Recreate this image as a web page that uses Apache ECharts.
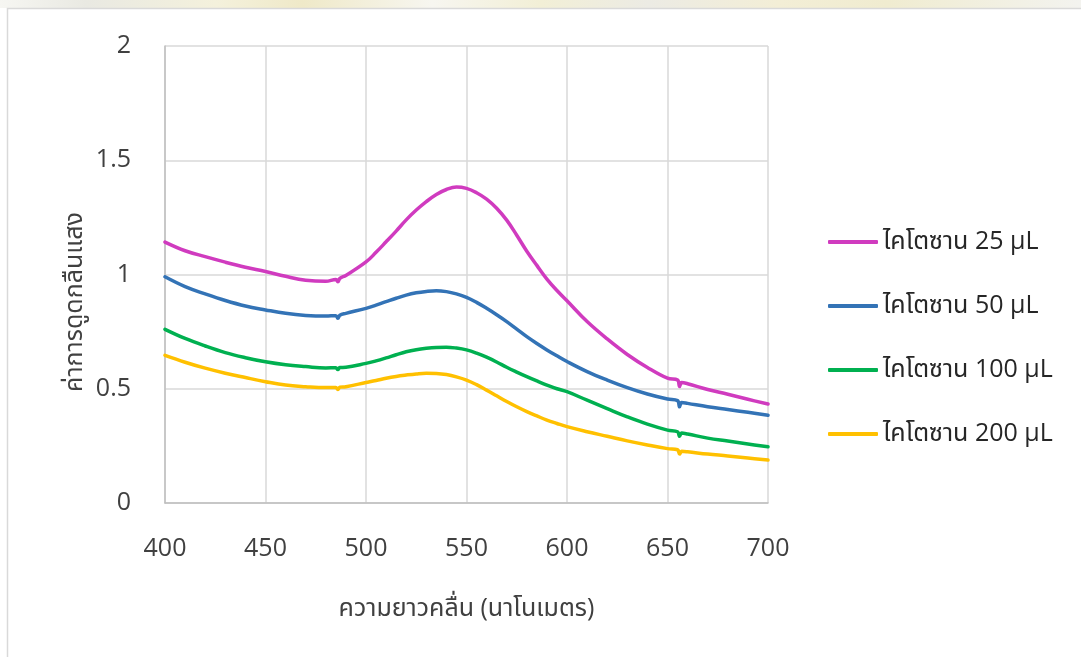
<!DOCTYPE html>
<html>
<head>
<meta charset="utf-8">
<script src="https://cdn.jsdelivr.net/npm/echarts@6/dist/echarts.min.js"></script>
<style>
  html, body { margin: 0; padding: 0; background: #ffffff; }
  #chart { width: 1081px; height: 657px; }
</style>
</head>
<body>
<div id="chart"></div>
<script>
// Absorbance spectra of chitosan-treated samples, 400–700 nm
const wavelengths = [400, 410, 420, 430, 440, 450, 460, 470, 480, 485, 486, 487, 490,
  500, 505, 510, 515, 520, 525, 530, 535, 540, 545, 550, 555, 560, 565, 570, 575, 580, 585, 590, 595,
  600, 610, 620, 630, 640, 650, 655, 656, 657, 660, 670, 680, 690, 700];

const chitosan25 = [1.142, 1.104, 1.078, 1.054, 1.032, 1.013, 0.992, 0.975, 0.970, 0.978, 0.968, 0.983, 0.996,
  1.055, 1.097, 1.143, 1.190, 1.239, 1.282, 1.319, 1.350, 1.372, 1.383, 1.377, 1.358, 1.330, 1.290, 1.238, 1.172, 1.102, 1.040, 0.980, 0.930,
  0.885, 0.794, 0.718, 0.650, 0.593, 0.546, 0.538, 0.510, 0.527, 0.522, 0.497, 0.476, 0.454, 0.433];

const chitosan50 = [0.990, 0.947, 0.915, 0.886, 0.862, 0.845, 0.830, 0.821, 0.818, 0.820, 0.808, 0.822, 0.830,
  0.852, 0.866, 0.881, 0.896, 0.910, 0.920, 0.926, 0.929, 0.925, 0.915, 0.900, 0.878, 0.852, 0.824, 0.794, 0.761, 0.728, 0.698, 0.670, 0.644,
  0.619, 0.575, 0.538, 0.505, 0.477, 0.455, 0.448, 0.421, 0.440, 0.436, 0.421, 0.409, 0.397, 0.384];

const chitosan100 = [0.760, 0.720, 0.687, 0.658, 0.636, 0.618, 0.605, 0.597, 0.591, 0.592, 0.584, 0.593, 0.594,
  0.611, 0.622, 0.635, 0.649, 0.662, 0.671, 0.677, 0.681, 0.682, 0.678, 0.670, 0.656, 0.638, 0.617, 0.594, 0.573, 0.553, 0.534, 0.516, 0.500,
  0.487, 0.450, 0.413, 0.377, 0.345, 0.319, 0.312, 0.292, 0.306, 0.302, 0.284, 0.271, 0.258, 0.246];

const chitosan200 = [0.646, 0.616, 0.590, 0.568, 0.549, 0.531, 0.516, 0.509, 0.505, 0.505, 0.497, 0.507, 0.509,
  0.527, 0.536, 0.546, 0.554, 0.560, 0.565, 0.568, 0.567, 0.562, 0.552, 0.538, 0.518, 0.494, 0.469, 0.444, 0.421, 0.400, 0.381, 0.363, 0.348,
  0.334, 0.312, 0.292, 0.272, 0.254, 0.238, 0.233, 0.214, 0.226, 0.224, 0.214, 0.206, 0.197, 0.188];

const seriesNames = ['ไคโตซาน 25 µL', 'ไคโตซาน 50 µL', 'ไคโตซาน 100 µL', 'ไคโตซาน 200 µL'];
const seriesValues = [chitosan25, chitosan50, chitosan100, chitosan200];
const seriesColors = ['#D03BBF', '#3373B6', '#00B050', '#FFC000'];

const xTitle = 'ความยาวคลื่น (นาโนเมตร)';
const yTitle = 'ค่าการดูดกลืนแสง';

const FONT = '"Open Sans", "Noto Sans", "Noto Sans Thai", "Liberation Sans", "DejaVu Sans", sans-serif';

const chart = echarts.init(document.getElementById('chart'), null, { renderer: 'canvas' });

chart.setOption({
  backgroundColor: '#ffffff',
  animation: false,
  textStyle: { fontFamily: FONT },
  grid: { left: 165, right: 313, top: 46, bottom: 154, outerBoundsMode: 'none' },
  xAxis: {
    type: 'value',
    min: 400, max: 700, interval: 50,
    name: xTitle,
    nameLocation: 'middle',
    nameGap: 93,
    nameTextStyle: { fontSize: 25, color: '#404040', fontFamily: FONT },
    axisLine: { show: true, lineStyle: { color: '#BFBFBF', width: 1.5 } },
    axisTick: { show: false },
    axisLabel: { fontSize: 25, color: '#404040', margin: 33, fontFamily: FONT },
    splitLine: { show: true, lineStyle: { color: '#D9D9D9', width: 1.5 } }
  },
  yAxis: {
    type: 'value',
    min: 0, max: 2, interval: 0.5,
    axisLine: { show: true, lineStyle: { color: '#BFBFBF', width: 1.5 } },
    axisTick: { show: false },
    axisLabel: { fontSize: 25, color: '#404040', margin: 34, fontFamily: FONT },
    splitLine: { show: true, lineStyle: { color: '#D9D9D9', width: 1.5 } }
  },
  legend: {
    orient: 'vertical',
    left: 823,
    top: 222,
    icon: 'roundRect',
    itemWidth: 50,
    itemHeight: 4,
    itemGap: 34,
    textStyle: { fontSize: 25, color: '#262626', fontFamily: FONT, lineHeight: 30 },
    data: seriesNames
  },
  graphic: [
    {
      type: 'rect',
      silent: true,
      shape: { x: 0, y: 0, width: 1081, height: 8 },
      style: {
        fill: new echarts.graphic.LinearGradient(0, 0, 1, 0, [
          { offset: 0.00, color: '#f6f6f2' },
          { offset: 0.08, color: '#e9e9e2' },
          { offset: 0.20, color: '#f4f1dc' },
          { offset: 0.28, color: '#efe9c8' },
          { offset: 0.40, color: '#f7f6f0' },
          { offset: 0.50, color: '#f2efd6' },
          { offset: 0.60, color: '#ecebe4' },
          { offset: 0.72, color: '#f3eed6' },
          { offset: 0.82, color: '#f0ecd0' },
          { offset: 1.00, color: '#f3f3ef' }
        ])
      },
      z: 0
    },
    {
      type: 'rect',
      silent: true,
      shape: { x: 7.5, y: 8.5, width: 1200, height: 800 },
      style: { fill: 'none', stroke: '#D9D9D9', lineWidth: 1.5 },
      z: 1
    },
    {
      type: 'text',
      silent: true,
      x: 75,
      y: 302,
      rotation: Math.PI / 2,
      style: {
        text: yTitle,
        fontSize: 25,
        fontFamily: FONT,
        fill: '#404040',
        align: 'center',
        verticalAlign: 'middle'
      },
      z: 2
    }
  ],
  series: seriesNames.map((name, k) => ({
    name: name,
    type: 'line',
    smooth: 0.4,
    showSymbol: false,
    symbol: 'none',
    color: seriesColors[k],
    lineStyle: { width: 3.5, color: seriesColors[k], cap: 'round', join: 'round' },
    data: wavelengths.map((w, i) => [w, seriesValues[k][i]])
  }))
});
</script>
</body>
</html>
